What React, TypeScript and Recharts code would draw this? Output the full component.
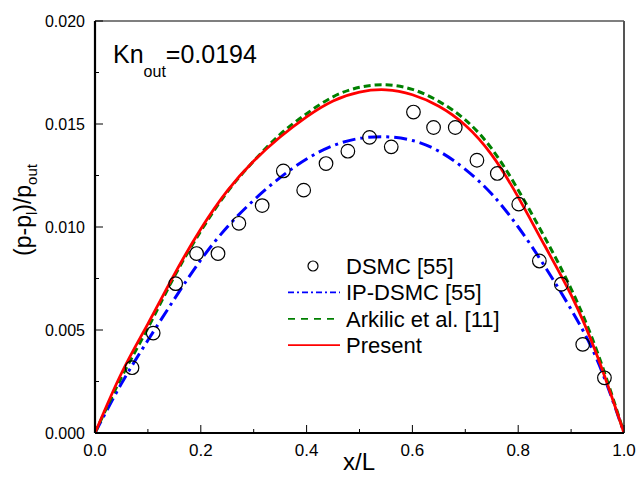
import React from "react";
import {
  ComposedChart,
  Line,
  Scatter,
  XAxis,
  YAxis,
  ReferenceLine,
  Legend,
} from "recharts";

const FONT = "'Liberation Sans', Arial, Helvetica, sans-serif";

// x positions of the model curves
const curveX = [0, 0.05, 0.1, 0.15, 0.2, 0.25, 0.3, 0.35, 0.4, 0.45, 0.5, 0.55, 0.6, 0.65, 0.7, 0.75, 0.8, 0.85, 0.9, 0.95, 1];
const presentY = [0, 0.0029, 0.0053, 0.0077, 0.0099, 0.01175, 0.0132, 0.01437, 0.01535, 0.01612, 0.01655, 0.01666, 0.01642, 0.01586, 0.01494, 0.0135, 0.01145, 0.0091, 0.0067, 0.0037, 0];
const arkilicY = [0, 0.0027, 0.0051, 0.0076, 0.0098, 0.0117, 0.0132, 0.0145, 0.0155, 0.01632, 0.01678, 0.0169, 0.01668, 0.0161, 0.0152, 0.0138, 0.0118, 0.0095, 0.007, 0.0039, 0];
const ipdsmcY = [0, 0.0024, 0.0045, 0.0065, 0.0084, 0.01, 0.0113, 0.0124, 0.0133, 0.01395, 0.0143, 0.01438, 0.0142, 0.01368, 0.0128, 0.0116, 0.01, 0.0081, 0.006, 0.0035, 0];

// DSMC samples
const dsmcX = [0.07, 0.11, 0.1525, 0.192, 0.2325, 0.272, 0.316, 0.356, 0.3945, 0.4367, 0.478, 0.519, 0.56, 0.602, 0.64, 0.681, 0.722, 0.7605, 0.801, 0.84, 0.8815, 0.922, 0.963];
const dsmcY = [0.00317, 0.00485, 0.00725, 0.00871, 0.00871, 0.01018, 0.01104, 0.01272, 0.01179, 0.01308, 0.01368, 0.01435, 0.01389, 0.01558, 0.01483, 0.01483, 0.01324, 0.0126, 0.01111, 0.00835, 0.00722, 0.0043, 0.00268];

const xTicks = [0, 0.1, 0.2, 0.3, 0.4, 0.5, 0.6, 0.7, 0.8, 0.9, 1.0];
const yTicks = [0, 0.0025, 0.005, 0.0075, 0.01, 0.0125, 0.015, 0.0175, 0.02];

const toPts = (xs: number[], ys: number[]) => xs.map((x, i) => ({ x, y: ys[i] }));
const presentData = toPts(curveX, presentY);
const arkilicData = toPts(curveX, arkilicY);
const ipdsmcData = toPts(curveX, ipdsmcY);
const dsmcData = toPts(dsmcX, dsmcY);

const XTick = (props: any) => {
  const { x, y, payload } = props;
  const v = payload.value as number;
  const major = Math.round(v * 10) % 2 === 0;
  return (
    <g>
      <line x1={x} x2={x} y1={y} y2={y - (major ? 8 : 4)} stroke="#000" strokeWidth={1} />
      {major && (
        <text x={x} y={y + 23} textAnchor="middle" fontSize={17} fontFamily={FONT} fill="#000">
          {v.toFixed(1)}
        </text>
      )}
    </g>
  );
};

const YTick = (props: any) => {
  const { x, y, payload } = props;
  const v = payload.value as number;
  const major = Math.round(v / 0.0025) % 2 === 0;
  return (
    <g>
      <line x1={x} x2={x + (major ? 8 : 4)} y1={y} y2={y} stroke="#000" strokeWidth={1} />
      {major && (
        <text x={x - 10} y={y + 6} textAnchor="end" fontSize={16} fontFamily={FONT} fill="#000">
          {v.toFixed(3)}
        </text>
      )}
    </g>
  );
};

const legendRows = [
  { label: "DSMC [55]", kind: "circle", color: "#000", dash: "" },
  { label: "IP-DSMC [55]", kind: "line", color: "#0000ff", dash: "6 3 2 3" },
  { label: "Arkilic et al. [11]", kind: "line", color: "#008000", dash: "7 6" },
  { label: "Present", kind: "line", color: "#ff0000", dash: "" },
];

const LegendContent = () => (
  <svg width={300} height={110} style={{ display: "block" }}>
    {legendRows.map((r, i) => {
      const cy = 16 + i * 26.4;
      return (
        <g key={r.label}>
          {r.kind === "circle" ? (
            <circle cx={33} cy={cy} r={5} fill="none" stroke="#000" strokeWidth={1.2} />
          ) : (
            <line x1={8} x2={60} y1={cy} y2={cy} stroke={r.color} strokeWidth={1.8} strokeDasharray={r.dash || undefined} />
          )}
          <text x={66} y={cy + 8} fontSize={22} fontFamily={FONT} fill="#000">
            {r.label}
          </text>
        </g>
      );
    })}
  </svg>
);

const OpenCircle = (props: any) => {
  const { cx, cy } = props;
  return <circle cx={cx} cy={cy} r={6.8} fill="none" stroke="#000" strokeWidth={1.2} />;
};

export default function App() {
  return (
    <div style={{ position: "absolute", left: 0, top: 0, width: 636, height: 477, background: "#fff" }}>
      <ComposedChart width={636} height={477} margin={{ top: 21, right: 12, left: 0, bottom: 0 }}>
        <XAxis
          type="number"
          dataKey="x"
          domain={[0, 1]}
          ticks={xTicks}
          interval={0}
          height={44}
          tickSize={0}
          tickMargin={0}
          tickLine={false}
          axisLine={{ stroke: "#000", strokeWidth: 2.2 }}
          tick={<XTick />}
          allowDataOverflow
        />
        <YAxis
          type="number"
          dataKey="y"
          domain={[0, 0.02]}
          ticks={yTicks}
          interval={0}
          width={95}
          tickSize={0}
          tickMargin={0}
          tickLine={false}
          axisLine={{ stroke: "#000", strokeWidth: 2.2 }}
          tick={<YTick />}
          allowDataOverflow
        />
        <ReferenceLine y={0.02} stroke="#000" strokeWidth={1.2} />
        <ReferenceLine x={1} stroke="#555" strokeWidth={2} />
        <Scatter data={dsmcData} dataKey="y" shape={<OpenCircle />} isAnimationActive={false} />
        <Line data={ipdsmcData} dataKey="y" type="natural" stroke="#0000ff" strokeWidth={3} strokeDasharray="13 5 3 5" dot={false} activeDot={false} isAnimationActive={false} />
        <Line data={arkilicData} dataKey="y" type="natural" stroke="#008000" strokeWidth={3} strokeDasharray="7 4" dot={false} activeDot={false} isAnimationActive={false} />
        <Line data={presentData} dataKey="y" type="natural" stroke="#ff0000" strokeWidth={2.8} dot={false} activeDot={false} isAnimationActive={false} />
        <Legend
          layout="vertical"
          align="center"
          verticalAlign="middle"
          content={<LegendContent />}
          wrapperStyle={{ position: "absolute", left: 280, top: 250, width: 300, height: 110 }}
        />
        <text x={113} y={63} fontSize={25} fontFamily={FONT} fill="#000">
          Kn<tspan dy={14} fontSize={16}>out</tspan>
          <tspan dy={-14}>=0.0194</tspan>
        </text>
        <text transform="rotate(-90)" x={-210} y={31} textAnchor="middle" fontSize={23} fontFamily={FONT} fill="#000">
          (p-p<tspan dy={6} fontSize={15}>l</tspan>
          <tspan dy={-6}>)/p</tspan>
          <tspan dy={6} fontSize={15}>out</tspan>
        </text>
        <text x={359} y={470} textAnchor="middle" fontSize={24} fontFamily={FONT} fill="#000">
          x/L
        </text>
      </ComposedChart>
    </div>
  );
}
